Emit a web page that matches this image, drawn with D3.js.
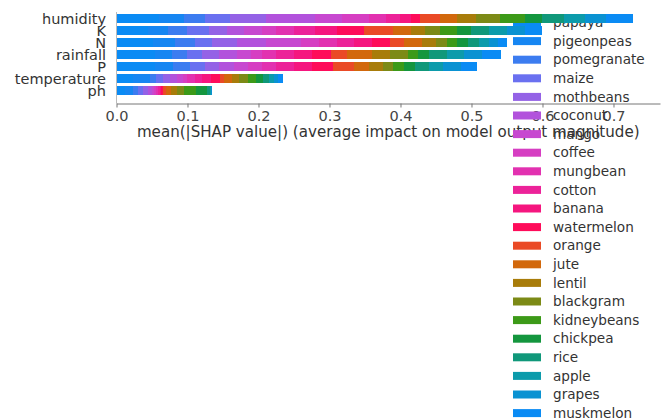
<!DOCTYPE html>
<html>
<head>
<meta charset="utf-8">
<script src="https://cdn.jsdelivr.net/npm/d3@7"></script>
<style>
  body { margin: 0; background: #fff; }
  text { font-family: "DejaVu Sans", sans-serif; }
</style>
</head>
<body>
<div id="chart"></div>
<script>
var features = ["humidity", "K", "N", "rainfall", "P", "temperature", "ph"];

var classes = ["papaya", "pigeonpeas", "pomegranate", "maize", "mothbeans", "coconut",
               "mango", "coffee", "mungbean", "cotton", "banana", "watermelon", "orange",
               "jute", "lentil", "blackgram", "kidneybeans", "chickpea", "rice", "apple",
               "grapes", "muskmelon"];

// mean(|SHAP|) of each class, in the class order above
var humidity    = [0.060, 0.035, 0.030, 0.035, 0.050, 0.070, 0.038, 0.037, 0.025, 0.020, 0.015,
                   0.013, 0.027, 0.025, 0.027, 0.033, 0.035, 0.025, 0.030, 0.030, 0.030, 0.037];
var K           = [0.045, 0.028, 0.027, 0.030, 0.025, 0.025, 0.025, 0.020, 0.025, 0.030, 0.030,
                   0.038, 0.042, 0.025, 0.020, 0.020, 0.025, 0.020, 0.025, 0.025, 0.025, 0.024];
var N           = [0.052, 0.030, 0.028, 0.025, 0.035, 0.040, 0.050, 0.025, 0.025, 0.025, 0.025,
                   0.025, 0.020, 0.025, 0.020, 0.015, 0.015, 0.015, 0.015, 0.015, 0.013, 0.012];
var rainfall    = [0.054, 0.024, 0.022, 0.020, 0.025, 0.025, 0.020, 0.015, 0.020, 0.025, 0.025,
                   0.027, 0.023, 0.035, 0.025, 0.025, 0.015, 0.015, 0.025, 0.025, 0.025, 0.026];
var P           = [0.054, 0.026, 0.023, 0.022, 0.020, 0.020, 0.020, 0.020, 0.020, 0.025, 0.025,
                   0.030, 0.030, 0.020, 0.020, 0.015, 0.015, 0.015, 0.020, 0.020, 0.025, 0.023];
var temperature = [0.023, 0.024, 0.008, 0.010, 0.010, 0.010, 0.008, 0.007, 0.010, 0.010, 0.013,
                   0.013, 0.006, 0.010, 0.010, 0.013, 0.012, 0.010, 0.008, 0.007, 0.006, 0.006];
var ph          = [0.012, 0.011, 0.007, 0.007, 0.007, 0.006, 0.003, 0.003, 0.003, 0.002, 0.002,
                   0.002, 0.005, 0.007, 0.008, 0.010, 0.017, 0.016, 0.003, 0.002, 0.001, 0.001];

var tickValues = [0, 0.1, 0.2, 0.3, 0.4, 0.5, 0.6, 0.7];

var palette = ["#0a8bf4", "#1686f2", "#3c7cf0", "#6a70f0", "#9462e6", "#b252dc", "#c748d0",
               "#d63ec2", "#e231b0", "#ec2299", "#f5167f", "#fe0c5a", "#ea4a26", "#d2680c",
               "#a87c0a", "#7c8a16", "#3c9a18", "#14963e", "#10987a", "#0c9bab", "#0a92d2",
               "#0a8bf4"];

var w = 667, h = 419;

var svg = d3.select("#chart")
  .append("svg")
  .attr("width", w)
  .attr("height", h);

var byFeature = { humidity: humidity, K: K, N: N, rainfall: rainfall, P: P,
                  temperature: temperature, ph: ph };

var rows = features.map(function(f) {
  var r = { feature: f };
  classes.forEach(function(c, i) { r[c] = byFeature[f][i]; });
  return r;
});

var series = d3.stack().keys(classes)(rows);

var xScale = d3.scaleLinear()
  .domain([0, 0.7655])
  .range([116.5, 660]);

var yScale = d3.scalePoint()
  .domain(features)
  .range([18.8, 90.6]);

var barH = 8.8;
var axisY = 103.5;

// left guide line
svg.append("line")
  .attr("x1", xScale(0)).attr("x2", xScale(0))
  .attr("y1", 12).attr("y2", axisY)
  .attr("stroke", "#bbbbbb")
  .attr("stroke-width", 1);

// x axis
var xAxis = svg.append("g")
  .attr("transform", "translate(0," + axisY + ")")
  .call(d3.axisBottom(xScale)
    .tickValues(tickValues)
    .tickFormat(d3.format(".1f"))
    .tickSize(4)
    .tickSizeOuter(0));

xAxis.select(".domain").attr("stroke", "#777777");
xAxis.selectAll(".tick line").attr("stroke", "#777777");
xAxis.selectAll(".tick text")
  .attr("font-size", "14.5px")
  .attr("fill", "#444444")
  .attr("font-family", "DejaVu Sans, sans-serif")
  .attr("dy", "0.72em");

svg.append("text")
  .attr("x", (xScale.range()[0] + xScale.range()[1]) / 2)
  .attr("y", 137)
  .attr("text-anchor", "middle")
  .attr("font-size", "15.1px")
  .attr("fill", "#333333")
  .text("mean(|SHAP value|) (average impact on model output magnitude)");

// feature labels
svg.selectAll(".ylab")
  .data(features)
  .enter()
  .append("text")
  .attr("class", "ylab")
  .attr("x", 106)
  .attr("y", function(d) { return yScale(d); })
  .attr("dy", "0.36em")
  .attr("text-anchor", "end")
  .attr("font-size", "14.5px")
  .attr("fill", "#333333")
  .text(function(d) { return d; });

// legend
var legend = svg.append("g");
var legendY0 = 22.5, legendStep = 18.6;

legend.selectAll("rect")
  .data(classes)
  .enter()
  .append("rect")
  .attr("x", 513)
  .attr("y", function(d, i) { return legendY0 + i * legendStep - 4; })
  .attr("width", 28)
  .attr("height", 8)
  .attr("fill", function(d, i) { return palette[i]; });

legend.selectAll("text")
  .data(classes)
  .enter()
  .append("text")
  .attr("x", 553)
  .attr("y", function(d, i) { return legendY0 + i * legendStep; })
  .attr("dy", "0.35em")
  .attr("font-size", "13.6px")
  .attr("fill", "#333333")
  .text(function(d) { return d; });

// stacked bars
svg.selectAll(".layer")
  .data(series)
  .enter()
  .append("g")
  .attr("class", "layer")
  .attr("fill", function(d, i) { return palette[i]; })
  .selectAll("rect")
  .data(function(d) { return d; })
  .enter()
  .append("rect")
  .attr("x", function(d) { return xScale(d[0]); })
  .attr("y", function(d) { return yScale(d.data.feature) - barH / 2; })
  .attr("width", function(d) { return Math.max(0, xScale(d[1]) - xScale(d[0])); })
  .attr("height", barH)
  .attr("shape-rendering", "crispEdges");
</script>
</body>
</html>
